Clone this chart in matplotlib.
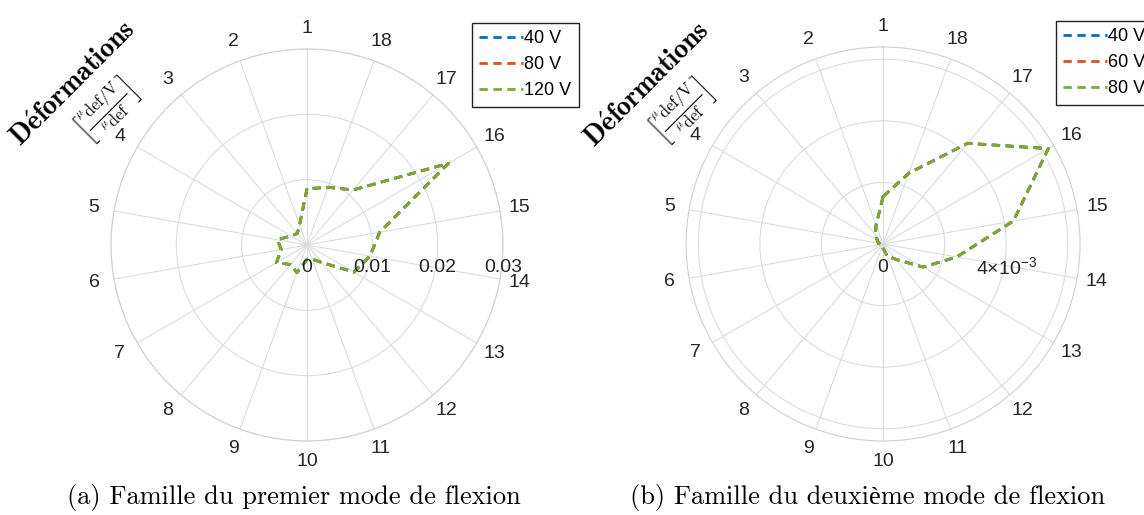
import numpy as np
import matplotlib
matplotlib.use("Agg")
import matplotlib.pyplot as plt

# angular positions (gauges 1..18)
gauge_labels = [str(k) for k in range(1, 19)]
gauge_angles = np.arange(18) * 20.0

# first bending mode family
mode1_40V = [0.0086, 0.0033, 0.0023, 0.0028, 0.0046, 0.0040, 0.0054, 0.0039, 0.0045,
             0.0022, 0.0023, 0.0035, 0.0083, 0.0098, 0.0113, 0.0250, 0.0110, 0.0094]
mode1_80V = [0.0086, 0.0033, 0.0023, 0.0028, 0.0046, 0.0040, 0.0054, 0.0039, 0.0045,
             0.0022, 0.0023, 0.0035, 0.0083, 0.0098, 0.0113, 0.0250, 0.0110, 0.0094]
mode1_120V = [0.0086, 0.0033, 0.0023, 0.0028, 0.0046, 0.0040, 0.0054, 0.0039, 0.0045,
              0.0022, 0.0023, 0.0035, 0.0083, 0.0098, 0.0113, 0.0250, 0.0110, 0.0094]
mode1_legend = ["40 V", "80 V", "120 V"]
mode1_rticks = [0, 0.01, 0.02, 0.03]
mode1_rlabels = ["0", "0.01", "0.02", "0.03"]
mode1_rmax = 0.03

# second bending mode family
mode2_40V = [1.54e-3, 0.66e-3, 0.39e-3, 0.21e-3, 0.15e-3, 0.08e-3, 0.05e-3, 0.03e-3, 0.05e-3,
             0.14e-3, 0.42e-3, 0.65e-3, 1.50e-3, 2.43e-3, 4.30e-3, 6.20e-3, 4.27e-3, 2.45e-3]
mode2_60V = [1.54e-3, 0.66e-3, 0.39e-3, 0.21e-3, 0.15e-3, 0.08e-3, 0.05e-3, 0.03e-3, 0.05e-3,
             0.14e-3, 0.42e-3, 0.65e-3, 1.50e-3, 2.43e-3, 4.30e-3, 6.20e-3, 4.27e-3, 2.45e-3]
mode2_80V = [1.54e-3, 0.66e-3, 0.39e-3, 0.21e-3, 0.15e-3, 0.08e-3, 0.05e-3, 0.03e-3, 0.05e-3,
             0.14e-3, 0.42e-3, 0.65e-3, 1.50e-3, 2.43e-3, 4.30e-3, 6.20e-3, 4.27e-3, 2.45e-3]
mode2_legend = ["40 V", "60 V", "80 V"]
mode2_rticks = [0, 0.004]
mode2_rlabels = ["0", r"$\mathregular{4{\times}10^{-3}}$"]
mode2_grid = [0.002, 0.004, 0.006]
mode2_rmax = 0.0064

colors = ["#0072BD", "#D95319", "#77AC30"]
text_col = "#262626"
serif = ["cmr10", "Liberation Serif"]

plt.rcParams["font.family"] = ["Liberation Sans", "DejaVu Sans"]
plt.rcParams["mathtext.fontset"] = "cm"
plt.rcParams["axes.formatter.use_mathtext"] = True


def draw_polar(fig, rect, series, names, grid_r, rmax, rticks, rlabels, leg_xy):
    ax = fig.add_axes(rect, projection="polar")
    ax.set_theta_zero_location("N")
    ax.set_theta_direction(1)
    th = np.deg2rad(np.append(gauge_angles, gauge_angles[0]))
    for vals, c, name in zip(series, colors, names):
        r = np.append(vals, vals[0])
        ax.plot(th, r, color=c, lw=2.0, dashes=(3.0, 2.0), label=name)
    ax.set_ylim(0, rmax)
    ax.set_yticks(grid_r)
    ax.set_yticklabels([])
    ax.set_thetagrids(gauge_angles, gauge_labels, fontsize=14, color=text_col)
    ax.tick_params(axis="x", pad=4)
    ax.grid(color="#dcdcdc", lw=0.8)
    ax.spines["polar"].set_color("#d0d0d0")
    ax.spines["polar"].set_linewidth(0.8)
    for val, lbl in zip(rticks, rlabels):
        ax.annotate(lbl, xy=(np.deg2rad(270), val), xytext=(0, -23),
                    textcoords="offset pixels", ha="center", va="center",
                    fontsize=14, color=text_col, annotation_clip=False)
    leg = ax.legend(loc="upper left", bbox_to_anchor=leg_xy,
                    bbox_transform=fig.transFigure, borderaxespad=0,
                    fontsize=13, handlelength=2.4, handletextpad=0.1,
                    labelspacing=0.5, borderpad=0.4, fancybox=False,
                    framealpha=1, edgecolor="#222222")
    leg.get_frame().set_linewidth(1.0)
    return ax


fig = plt.figure(figsize=(11.44, 5.15), dpi=100)

draw_polar(fig, [0.0970, 0.1437, 0.3427, 0.7612],
           [mode1_40V, mode1_80V, mode1_120V], mode1_legend,
           mode1_rticks[1:], mode1_rmax, mode1_rticks, mode1_rlabels,
           (0.4126, 0.9553))
draw_polar(fig, [0.5997, 0.1437, 0.3444, 0.7650],
           [mode2_40V, mode2_60V, mode2_80V], mode2_legend,
           mode2_grid, mode2_rmax, mode2_rticks, mode2_rlabels,
           (0.9231, 0.9592))

ylab = r"$\mathbf{D\acute{e}formations}$"
yunit = r"$\left[\frac{{}^{\mu}\mathrm{def}/\mathrm{V}}{{}^{\mu}\mathrm{def}}\right]$"
for (x1, y1), (x2, y2) in [((0.0650, 0.8360), (0.0930, 0.785)),
                           ((0.5668, 0.834), (0.5956, 0.783))]:
    fig.text(x1, y1, ylab, rotation=45, rotation_mode="anchor",
             ha="center", va="center", fontsize=20, color="black")
    fig.text(x2, y2, yunit, rotation=45, rotation_mode="anchor",
             ha="center", va="center", fontsize=17, color="black")

fig.text(0.2565, 0.022, "(a) Famille du premier mode de flexion",
         family=serif, fontsize=19, ha="center", va="baseline")
fig.text(0.7587, 0.022, "(b) Famille du deuxième mode de flexion",
         family=serif, fontsize=19, ha="center", va="baseline")

fig.savefig("out.png", dpi=100)
